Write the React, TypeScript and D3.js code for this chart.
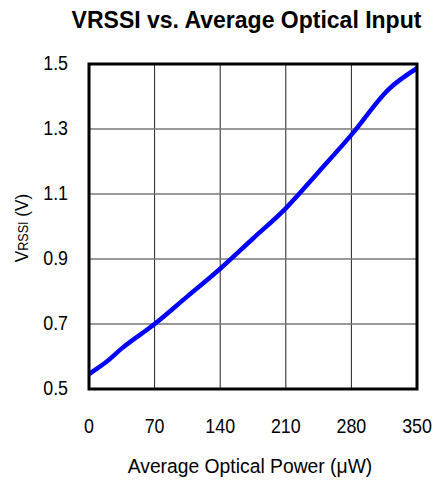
import React, { useEffect, useRef } from 'react';
import * as d3 from 'd3';

// Values
const powerUW = [0, 10, 17, 35, 70, 105, 140, 175, 210, 245, 280, 320, 350];
const vrssi = [0.546, 0.566, 0.58, 0.625, 0.7, 0.785, 0.87, 0.963, 1.056, 1.168, 1.282, 1.423, 1.487];
const xTicks = [0, 70, 140, 210, 280, 350];
const yTicks = [0.5, 0.7, 0.9, 1.1, 1.3, 1.5];

const W = 433;
const H = 481;
const margin = { top: 64, right: 16, bottom: 92, left: 89 };
const FONT = '"Liberation Sans", Arial, sans-serif';

export default function App() {
	const node = useRef<SVGSVGElement>(null);

	useEffect(() => {
		const svg = d3.select(node.current);
		svg.selectAll('*').remove();

		const width = W - margin.left - margin.right;
		const height = H - margin.top - margin.bottom;

		const x = d3.scaleLinear().domain([0, 350]).range([0, width]);
		const y = d3.scaleLinear().domain([0.5, 1.5]).range([height, 0]);

		svg.append('rect').attr('width', W).attr('height', H).attr('fill', '#fff');

		// Title
		svg.append('text')
			.attr('x', 246.5)
			.attr('y', 28)
			.attr('text-anchor', 'middle')
			.style('font-family', FONT)
			.style('font-weight', 'bold')
			.style('font-size', '23px')
			.text('VRSSI vs. Average Optical Input');

		const g = svg.append('g')
			.attr('transform', `translate(${margin.left},${margin.top})`);

		// Grid: vertical lines black, horizontal gray
		g.append('g')
			.selectAll('line')
			.data(xTicks.slice(1, -1))
			.enter()
			.append('line')
			.attr('x1', d => x(d))
			.attr('x2', d => x(d))
			.attr('y1', 0)
			.attr('y2', height)
			.attr('stroke', '#222')
			.attr('stroke-width', 1);

		g.append('g')
			.selectAll('line')
			.data(yTicks.slice(1, -1))
			.enter()
			.append('line')
			.attr('x1', 0)
			.attr('x2', width)
			.attr('y1', d => y(d))
			.attr('y2', d => y(d))
			.attr('stroke', '#777')
			.attr('stroke-width', 1.3);

		// Data line
		const line = d3.line<number>()
			.x((d, i) => x(powerUW[i]))
			.y(d => y(d))
			.curve(d3.curveMonotoneX);

		g.append('path')
			.datum(vrssi)
			.attr('d', line)
			.attr('fill', 'none')
			.attr('stroke', '#0000ff')
			.attr('stroke-width', 4.5)
			.attr('stroke-linejoin', 'round');

		// Frame
		g.append('rect')
			.attr('width', width)
			.attr('height', height)
			.attr('fill', 'none')
			.attr('stroke', '#000')
			.attr('stroke-width', 3);

		// Tick labels (narrow, tall glyphs in the reference)
		g.append('g')
			.selectAll('text')
			.data(xTicks)
			.enter()
			.append('text')
			.attr('transform', d => `translate(${x(d)},${height + 44}) scale(0.87,1)`)
			.attr('text-anchor', 'middle')
			.style('font-family', FONT)
			.style('font-size', '20.5px')
			.text(d => d);

		g.append('g')
			.selectAll('text')
			.data(yTicks)
			.enter()
			.append('text')
			.attr('transform', d => `translate(-21,${y(d) - 1.5}) scale(0.87,1)`)
			.attr('dy', '0.35em')
			.attr('text-anchor', 'end')
			.style('font-family', FONT)
			.style('font-size', '20.5px')
			.text(d => d.toFixed(1));

		// Axis titles
		g.append('text')
			.attr('transform', `translate(${250 - margin.left},${height + 84}) scale(0.92,1)`)
			.attr('text-anchor', 'middle')
			.style('font-family', FONT)
			.style('font-size', '21px')
			.text('Average Optical Power (\u03bcW)');

		const yt = svg.append('text')
			.attr('transform', 'translate(28,228) rotate(-90) scale(0.9,1)')
			.attr('text-anchor', 'middle')
			.style('font-family', FONT)
			.style('font-size', '19px');
		yt.append('tspan').text('V');
		yt.append('tspan').style('font-size', '14px').text('RSSI');
		yt.append('tspan').text(' (V)');
	}, []);

	return <svg ref={node} width={W} height={H} style={{ position: 'absolute', left: 0, top: 0 }} />;
}
